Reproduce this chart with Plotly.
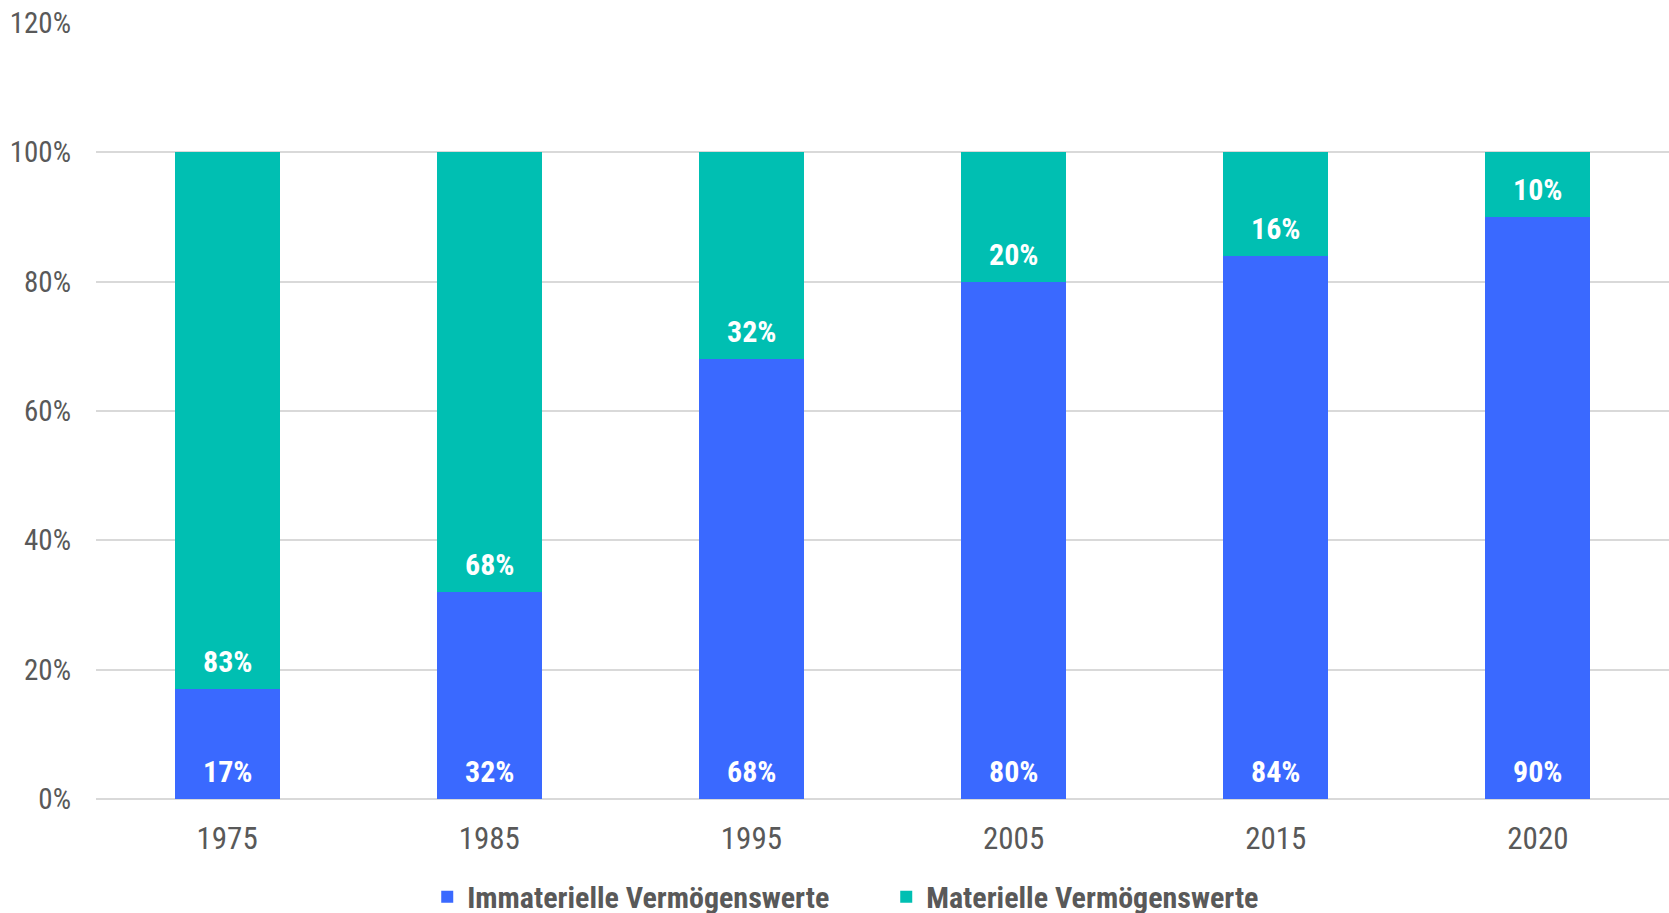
import plotly.graph_objects as go

years = ["1975", "1985", "1995", "2005", "2015", "2020"]
immateriell = [17, 32, 68, 80, 84, 90]
materiell = [83, 68, 32, 20, 16, 10]
y_ticks = [0, 20, 40, 60, 80, 100, 120]
y_tick_labels = ["0%", "20%", "40%", "60%", "80%", "100%", "120%"]
series_names = ["Immaterielle Vermögenswerte", "Materielle Vermögenswerte"]

BLUE = "#3A69FF"
TEAL = "#00BFB2"
GRAY = "#595959"
FONT = "Liberation Sans Narrow, Arial Narrow, Roboto Condensed, sans-serif"

fig = go.Figure()
fig.add_trace(go.Bar(x=years, y=immateriell, name=series_names[0],
                     marker=dict(color=BLUE, line=dict(width=0))))
fig.add_trace(go.Bar(x=years, y=materiell, name=series_names[1],
                     marker=dict(color=TEAL, line=dict(width=0))))

annotations = []
for i, (a, b) in enumerate(zip(immateriell, materiell)):
    # category axes place annotations by category index
    annotations.append(dict(x=i, y=0, text=f"{a}%", showarrow=False,
                            yanchor="bottom", yshift=8,
                            font=dict(family=FONT, size=30, color="white", weight="bold")))
    annotations.append(dict(x=i, y=a, text=f"{b}%", showarrow=False,
                            yanchor="bottom", yshift=8,
                            font=dict(family=FONT, size=30, color="white", weight="bold")))

fig.update_layout(
    barmode="stack",
    bargap=0.6,
    width=1669, height=913,
    margin=dict(l=96, r=0, t=23, b=114, autoexpand=False),
    paper_bgcolor="white", plot_bgcolor="white",
    font=dict(family=FONT, color=GRAY),
    annotations=annotations,
    showlegend=True,
    legend=dict(orientation="h", xref="container", yref="paper",
                traceorder="normal", entrywidth=414,
                x=0.531, xanchor="center", y=-0.126, yanchor="middle",
                font=dict(family=FONT, size=30, color=GRAY, weight="bold")),
    xaxis=dict(type="category", showgrid=False, showline=False,
               tickfont=dict(size=31, color=GRAY), ticklabelstandoff=18),
    yaxis=dict(range=[0, 120], tickvals=y_ticks, ticktext=y_tick_labels,
               showgrid=True, gridcolor="#D9D9D9", gridwidth=2,
               zeroline=True, zerolinecolor="#D9D9D9", zerolinewidth=2,
               showline=False, tickfont=dict(size=29, color=GRAY),
               ticklabelstandoff=24),
)

fig.write_html("out.html")
